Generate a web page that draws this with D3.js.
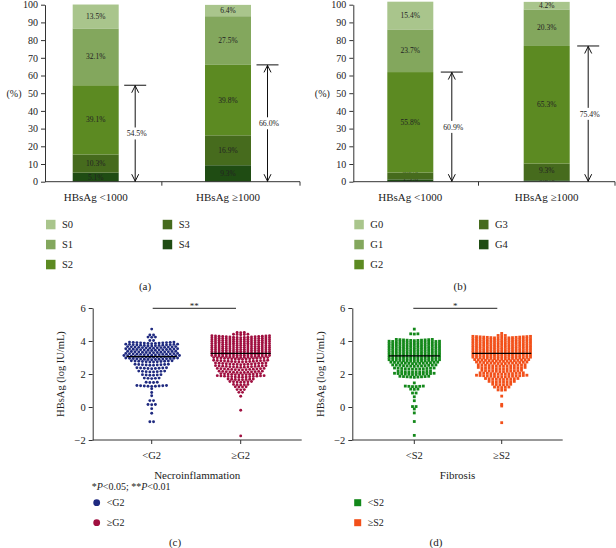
<!DOCTYPE html>
<html><head><meta charset="utf-8">
<script src="https://cdn.jsdelivr.net/npm/d3@7"></script>
<style>
body{margin:0;background:#fff}
svg{display:block}
text{font-family:"Liberation Serif","DejaVu Serif",serif;fill:#222}
</style>
</head><body>
<svg id="chart" width="616" height="548"></svg>
<script>
// ---------- DATA ----------
const barCategories = ["HBsAg <1000", "HBsAg \u22651000"];
const fibrosisStages = ["S0", "S1", "S2", "S3", "S4"];
const fibS0 = [13.5, 6.4];
const fibS1 = [32.1, 27.5];
const fibS2 = [39.1, 39.8];
const fibS3 = [10.3, 16.9];
const fibS4 = [5.1, 9.3];
const fibArrow = [54.5, 66.0];

const gradeStages = ["G0", "G1", "G2", "G3", "G4"];
const grdG0 = [15.4, 4.2];
const grdG1 = [23.7, 20.3];
const grdG2 = [55.8, 65.3];
const grdG3 = [3.8, 9.3];
const grdG4 = [1.3, 0.8];
const grdArrow = [60.9, 75.4];

const barTicks = [0, 10, 20, 30, 40, 50, 60, 70, 80, 90, 100];
const stageColors = ["#a9c58c", "#83a75d", "#5c8a22", "#466b1d", "#1f4c13"];

const necroGroups = ["<G2", "\u2265G2"];
const fibGroups = ["<S2", "\u2265S2"];
const scatterTicks = [-2, 0, 2, 4, 6];

// HBsAg values (log IU/mL) binned as [value, number of patients]
const necroLow = [[4.72,1],[4.36,2],[4.22,3],[4.02,2],[3.84,13],[3.7,15],[3.56,14],[3.42,15],[3.28,14],[3.14,15],[3.0,16],[2.86,15],[2.72,12],[2.52,10],[2.32,9],[2.12,8],[1.92,6],[1.72,5],[1.48,4],[1.24,9],[1.1,1],[0.88,1],[0.68,1],[0.38,2],[0.14,3],[-0.1,1],[-0.38,1],[-0.9,2]];
const necroHigh = [[4.5,3],[4.38,5],[4.2,17],[4.08,17],[3.96,17],[3.84,17],[3.72,17],[3.6,17],[3.48,17],[3.36,17],[3.24,17],[3.12,17],[3.0,17],[2.88,16],[2.72,16],[2.56,15],[2.4,15],[2.24,14],[2.08,13],[1.94,12],[1.8,14],[1.64,8],[1.5,7],[1.34,5],[1.2,4],[1.04,3],[0.88,2],[0.65,1],[-0.2,1],[-1.75,1]];
const fibLow = [[4.72,1],[4.42,3],[4.02,11],[3.88,15],[3.74,15],[3.6,15],[3.46,15],[3.32,15],[3.18,15],[3.04,15],[2.9,15],[2.76,15],[2.62,14],[2.46,13],[2.28,12],[2.1,10],[1.96,12],[1.8,9],[1.46,1],[1.23,6],[1.07,3],[0.84,2],[0.62,1],[0.38,1],[0.02,2],[-0.12,1],[-0.36,1],[-0.88,1],[-1.72,1]];
const fibHigh = [[4.46,1],[4.32,3],[4.16,17],[4.02,17],[3.88,17],[3.74,17],[3.6,17],[3.46,17],[3.32,17],[3.18,17],[3.04,17],[2.9,17],[2.76,16],[2.62,15],[2.46,14],[2.3,14],[2.14,12],[1.98,13],[1.82,15],[1.66,10],[1.5,8],[1.34,6],[1.18,5],[1.02,3],[0.66,1],[0.16,1],[0.06,1],[-0.95,1]];
const necroMedians = [3.05, 3.25];
const fibMedians = [3.1, 3.25];

// ---------- DRAW ----------
const svg = d3.select("#chart");
const AX = "#333";

function arrowHead(g, x, y, dir) {
  g.append("path").attr("d", `M${x-3.5},${y+dir*7}L${x},${y}L${x+3.5},${y+dir*7}`)
    .attr("fill", "none").attr("stroke", "#111").attr("stroke-width", 1);
}

function barPanel(o) {
  const g = svg.append("g");
  const y = d3.scaleLinear().domain([0, 100]).range([181.7, 4.7]);
  const yb = d3.scaleLinear().domain([0, 100]).range([181.7, 181.7 - 177 * o.stretch]);
  const x = d3.scalePoint().domain(barCategories).range(o.centers);
  const bw = 46;
  const table = barCategories.map((c, i) => {
    const row = {cat: c};
    o.stages.forEach((s, k) => row[s] = o.values[k][i]);
    return row;
  });
  const stackOrder = o.stages.slice().reverse();
  const series = d3.stack().keys(stackOrder)(table);
  const lastY = barCategories.map(() => 187.5);
  series.forEach(s => {
    const col = stageColors[o.stages.indexOf(s.key)];
    g.selectAll(null).data(s).join("rect")
      .attr("x", d => x(d.data.cat) - bw / 2).attr("width", bw)
      .attr("y", d => yb(d[1])).attr("height", d => yb(d[0]) - yb(d[1]))
      .attr("fill", col);
    s.forEach((d, i) => {
      const ly = Math.min(yb((d[0] + d[1]) / 2), lastY[i] - 8.8);
      lastY[i] = ly;
      g.append("text").attr("x", x(d.data.cat)).attr("y", ly)
        .attr("dy", "0.35em").attr("text-anchor", "middle").attr("font-size", 7.5)
        .text(d.data[s.key].toFixed(1) + "%");
    });
  });
  const ya = g.append("g").attr("transform", `translate(${o.axisX},0)`)
    .call(d3.axisLeft(y).tickValues(barTicks).tickSize(4).tickSizeOuter(0));
  ya.select(".domain").attr("stroke", AX);
  ya.selectAll(".tick line").attr("stroke", AX);
  ya.selectAll(".tick text").attr("font-size", 10).attr("font-family", "Liberation Serif").attr("fill", "#222").attr("x", -7);
  g.append("text").attr("x", o.axisX - 31).attr("y", y(50)).attr("dy", "0.35em")
    .attr("text-anchor", "middle").attr("font-size", 10).text("(%)");
  g.append("line").attr("x1", o.axisX).attr("x2", o.axisEnd).attr("y1", y(0)).attr("y2", y(0)).attr("stroke", AX);
  [(o.centers[0] + o.centers[1]) / 2, o.axisEnd].forEach(t =>
    g.append("line").attr("x1", t).attr("x2", t).attr("y1", y(0)).attr("y2", y(0) + 4).attr("stroke", AX));
  barCategories.forEach(c => g.append("text").attr("x", x(c)).attr("y", 200.5)
    .attr("text-anchor", "middle").attr("font-size", 11).text(c));
  o.arrows.forEach((v, i) => {
    const ax = x(barCategories[i]) + o.arrowOff, yt = yb(v), y0 = y(0);
    g.append("line").attr("x1", ax - 11).attr("x2", ax + 11).attr("y1", yt).attr("y2", yt).attr("stroke", "#111");
    g.append("line").attr("x1", ax).attr("x2", ax).attr("y1", yt).attr("y2", y0).attr("stroke", "#111");
    arrowHead(g, ax, yt + 0.5, 1);
    arrowHead(g, ax, y0 - 0.5, -1);
    const ym = (yt + y0) / 2;
    g.append("rect").attr("x", ax - 11).attr("y", ym - 6).attr("width", 22).attr("height", 12).attr("fill", "#fff");
    g.append("text").attr("x", ax + 1.5).attr("y", ym).attr("dy", "0.35em").attr("text-anchor", "middle")
      .attr("font-size", 7.8).text(v.toFixed(1) + "%");
  });
  o.stages.forEach((s, k) => {
    const col = k < 3 ? 0 : 1, row = k < 3 ? k : k - 3;
    const lx = o.legendX[col], ly = 224.3 + row * 20;
    g.append("rect").attr("x", lx).attr("y", ly - 4.5).attr("width", 9.5).attr("height", 9.5).attr("fill", stageColors[k]);
    g.append("text").attr("x", lx + 16).attr("y", ly).attr("dy", "0.35em").attr("font-size", 10.5).text(s);
  });
  g.append("text").attr("x", o.captionX).attr("y", 289.5).attr("text-anchor", "middle").attr("font-size", 11).text(o.caption);
}

barPanel({stages: fibrosisStages, values: [fibS0, fibS1, fibS2, fibS3, fibS4], arrows: fibArrow,
  axisX: 45, axisEnd: 300, centers: [95.7, 228], stretch: 1, arrowOff: 39.5,
  legendX: [46, 162.7], captionX: 145, caption: "(a)"});
barPanel({stages: gradeStages, values: [grdG0, grdG1, grdG2, grdG3, grdG4], arrows: grdArrow,
  axisX: 353.3, axisEnd: 615, centers: [410.3, 546.7], stretch: 1.017, arrowOff: 41.5,
  legendX: [354.3, 479], captionX: 460, caption: "(b)"});

function scatterPanel(o) {
  const g = svg.append("g");
  const y = d3.scaleLinear().domain([-2, 6]).range([440, 308]);
  const x = d3.scalePoint().domain(o.groups).range(o.centers);
  o.data.forEach((bins, gi) => {
    const pts = [];
    bins.forEach(([v, n]) => {
      for (let i = 0; i < n; i++) pts.push({v, dx: (i - (n - 1) / 2) * o.spacing[gi]});
    });
    const cx = x(o.groups[gi]);
    const sel = g.append("g").attr("fill", o.colors[gi]);
    if (o.shape === "circle") {
      sel.selectAll("circle").data(pts).join("circle")
        .attr("cx", d => cx + d.dx).attr("cy", d => y(d.v) - Math.abs(d.dx) * 0.07).attr("r", 1.45);
    } else {
      sel.selectAll("rect").data(pts).join("rect")
        .attr("x", d => cx + d.dx - 1.4).attr("y", d => y(d.v) - Math.abs(d.dx) * 0.07 - 1.4)
        .attr("width", 2.8).attr("height", 2.8);
    }
    const hw = o.medW[gi] / 2;
    g.append("line").attr("x1", cx - hw).attr("x2", cx + hw)
      .attr("y1", y(o.medians[gi])).attr("y2", y(o.medians[gi])).attr("stroke", "#000").attr("stroke-width", 1.2);
  });
  const ya = g.append("g").attr("transform", `translate(${o.axisX},0)`)
    .call(d3.axisLeft(y).tickValues(scatterTicks).tickSize(4).tickSizeOuter(0)
      .tickFormat(d => d < 0 ? "\u2212" + Math.abs(d) : d));
  ya.select(".domain").attr("stroke", AX);
  ya.selectAll(".tick line").attr("stroke", AX);
  ya.selectAll(".tick text").attr("font-size", 10.5).attr("font-family", "Liberation Serif").attr("fill", "#222").attr("x", -7);
  g.append("line").attr("x1", o.axisX).attr("x2", o.axisEnd).attr("y1", 440).attr("y2", 440).attr("stroke", AX);
  o.groups.forEach(c => {
    g.append("line").attr("x1", x(c)).attr("x2", x(c)).attr("y1", 440).attr("y2", 444).attr("stroke", AX);
    g.append("text").attr("x", x(c)).attr("y", 458.5).attr("text-anchor", "middle").attr("font-size", 10.5).text(c);
  });
  g.append("text").attr("x", (o.axisX + o.axisEnd) / 2).attr("y", 479).attr("text-anchor", "middle")
    .attr("font-size", 11).text(o.xTitle);
  g.append("text").attr("transform", `translate(${o.axisX - 32},${y(2)}) rotate(-90)`)
    .attr("text-anchor", "middle").attr("dy", "0.35em").attr("font-size", 10.5).text("HBsAg (log IU/mL)");
  g.append("line").attr("x1", o.sig[0]).attr("x2", o.sig[1]).attr("y1", 308.3).attr("y2", 308.3).attr("stroke", "#222");
  g.append("text").attr("x", (o.sig[0] + o.sig[1]) / 2).attr("y", 309).attr("text-anchor", "middle")
    .attr("font-size", 9).text(o.sigText);
  o.groups.forEach((c, i) => {
    const ly = 502.7 + i * 20;
    if (o.shape === "circle") g.append("circle").attr("cx", o.legendX).attr("cy", ly).attr("r", 3.4).attr("fill", o.colors[i]);
    else g.append("rect").attr("x", o.legendX - 3.5).attr("y", ly - 3.5).attr("width", 7).attr("height", 7).attr("fill", o.colors[i]);
    g.append("text").attr("x", o.legendX + 10).attr("y", ly).attr("dy", "0.35em").attr("font-size", 10).text(c);
  });
  g.append("text").attr("x", o.captionX).attr("y", 546).attr("text-anchor", "middle").attr("font-size", 11).text(o.caption);
}

scatterPanel({groups: necroGroups, data: [necroLow, necroHigh], medians: necroMedians, colors: ["#1f2a80", "#a01040"],
  shape: "circle", spacing: [3.7, 3.6], medW: [50, 60], axisX: 92.7, axisEnd: 301.7, centers: [151.7, 240.7],
  xTitle: "Necroinflammation", sig: [152.7, 236], sigText: "**", legendX: 96.7, captionX: 175, caption: "(c)"});
scatterPanel({groups: fibGroups, data: [fibLow, fibHigh], medians: fibMedians, colors: ["#13881a", "#f2501a"],
  shape: "square", spacing: [3.6, 3.6], medW: [51, 59], axisX: 352.3, axisEnd: 562.7, centers: [414.3, 501.7],
  xTitle: "Fibrosis", sig: [413.3, 497.3], sigText: "*", legendX: 357.7, captionX: 436, caption: "(d)"});

const note = svg.append("text").attr("x", 91.7).attr("y", 490).attr("font-size", 10);
note.append("tspan").text("*");
note.append("tspan").attr("font-style", "italic").text("P");
note.append("tspan").text("<0.05; **");
note.append("tspan").attr("font-style", "italic").text("P");
note.append("tspan").text("<0.01");
</script>
</body></html>
